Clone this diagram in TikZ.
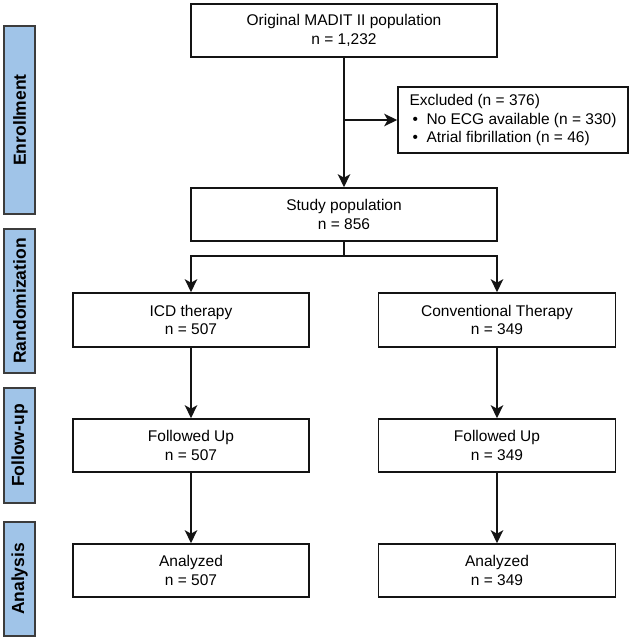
\documentclass[tikz,border=0pt]{standalone}
\usepackage{fontspec}
\setmainfont{Liberation Sans}
\usetikzlibrary{arrows.meta}
\definecolor{barblue}{RGB}{160,196,232}
\definecolor{barline}{RGB}{60,60,60}
\definecolor{ink}{RGB}{20,20,20}
\tikzset{
  x=1pt, y=-1pt,
  flowbox/.style={draw=ink, line width=1.6pt, fill=white, align=center, inner sep=0pt,
    font=\fontsize{15.5}{18.5}\selectfont},
  sidebar/.style={draw=barline, line width=1.2pt, fill=barblue, inner sep=0pt,
    minimum width=31pt, font=\fontsize{17.5}{20}\selectfont\bfseries},
  flowarrow/.style={draw=ink, line width=1.6pt, -{Stealth[length=13pt,width=12.5pt,inset=3.5pt]}},
  flowline/.style={draw=ink, line width=1.6pt}
}
\begin{document}
\begin{tikzpicture}
\useasboundingbox (0,0) rectangle (633,640);
% side bars
\node[sidebar, minimum height=188pt] (enr) at (19.5,120) {\rotatebox{90}{Enrollment}};
\node[sidebar, minimum height=144pt] (ran) at (19.5,301) {\rotatebox{90}{Randomization}};
\node[sidebar, minimum height=115pt] (fol) at (19.5,445.5) {\rotatebox{90}{Follow-up}};
\node[sidebar, minimum height=114pt] (ana) at (19.5,579) {\rotatebox{90}{Analysis}};
% boxes
\node[flowbox, minimum width=306pt, minimum height=53pt] (orig) at (344,30.5) {Original MADIT II population\\n = 1,232};
\node[flowbox, minimum height=66pt, align=left, inner xsep=11.5pt] (excl) at (513,120)
  {Excluded (n = 376)\\\hspace*{3pt}\makebox[14pt][l]{•}No ECG available (n = 330)\\\hspace*{3pt}\makebox[14pt][l]{•}Atrial fibrillation (n = 46)};
\node[flowbox, minimum width=306pt, minimum height=53pt] (study) at (344,214.5) {Study population\\n = 856};
\node[flowbox, minimum width=236pt, minimum height=54pt] (icd) at (191,320) {ICD therapy\\n = 507};
\node[flowbox, minimum width=237pt, minimum height=54pt] (conv) at (497,320) {Conventional Therapy\\n = 349};
\node[flowbox, minimum width=236pt, minimum height=53pt] (fuL) at (191,445.5) {Followed Up\\n = 507};
\node[flowbox, minimum width=237pt, minimum height=53pt] (fuR) at (497,445.5) {Followed Up\\n = 349};
\node[flowbox, minimum width=236pt, minimum height=53pt] (anL) at (191,570.5) {Analyzed\\n = 507};
\node[flowbox, minimum width=237pt, minimum height=53pt] (anR) at (497,570.5) {Analyzed\\n = 349};
% connectors
\draw[flowarrow] (orig.south) -- (study.north);
\coordinate (br) at (344,120);
\draw[flowarrow] (br) -- (excl.west);
\coordinate (sp) at (344,256);
\draw[flowline] (study.south) -- (sp);
\draw[flowarrow] (sp) -| (icd.north);
\draw[flowarrow] (sp) -| (conv.north);
\draw[flowarrow] (icd.south) -- (fuL.north);
\draw[flowarrow] (conv.south) -- (fuR.north);
\draw[flowarrow] (fuL.south) -- (anL.north);
\draw[flowarrow] (fuR.south) -- (anR.north);
\end{tikzpicture}
\end{document}
